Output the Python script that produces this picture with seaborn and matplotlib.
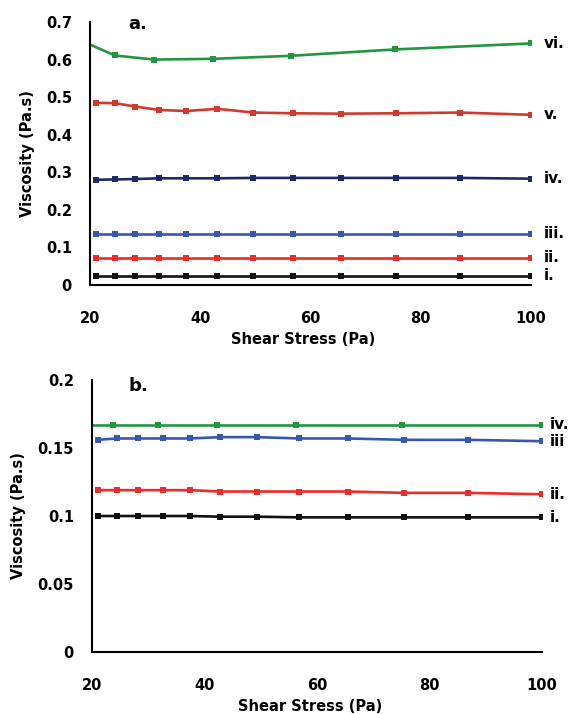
import matplotlib
matplotlib.use("Agg")
import matplotlib.pyplot as plt
import seaborn as sns
import pandas as pd

# ---------------- data: panel a ----------------
x_a = [21.0, 24.5, 28.2, 32.5, 37.5, 43.1, 49.6, 56.9, 65.6, 75.6, 87.1, 100.0]
a_i = [0.025, 0.025, 0.025, 0.025, 0.025, 0.025, 0.025, 0.025, 0.025, 0.025, 0.025, 0.025]
a_ii = [0.073, 0.073, 0.073, 0.073, 0.073, 0.073, 0.073, 0.073, 0.073, 0.073, 0.073, 0.073]
a_iii = [0.137, 0.137, 0.137, 0.137, 0.137, 0.137, 0.137, 0.137, 0.137, 0.137, 0.137, 0.137]
a_iv = [0.280, 0.281, 0.282, 0.284, 0.284, 0.284, 0.285, 0.285, 0.285, 0.285, 0.285, 0.283]
a_v = [0.485, 0.484, 0.475, 0.466, 0.463, 0.469, 0.459, 0.457, 0.456, 0.457, 0.459, 0.453]
x_a_vi = [20.0, 24.5, 31.6, 42.4, 56.4, 75.3, 100.0]
a_vi = [0.640, 0.611, 0.600, 0.602, 0.610, 0.627, 0.643]

# ---------------- data: panel b ----------------
x_b = [21.0, 24.4, 28.2, 32.6, 37.4, 42.8, 49.4, 56.8, 65.6, 75.5, 86.9, 100.0]
b_i = [0.100, 0.100, 0.100, 0.100, 0.100, 0.0995, 0.0995, 0.099, 0.099, 0.099, 0.099, 0.099]
b_ii = [0.119, 0.119, 0.119, 0.119, 0.119, 0.118, 0.118, 0.118, 0.118, 0.117, 0.117, 0.116]
b_iii = [0.156, 0.157, 0.157, 0.157, 0.157, 0.158, 0.158, 0.157, 0.157, 0.156, 0.156, 0.155]
x_b_iv = [20.0, 23.7, 31.7, 42.2, 56.3, 75.1, 100.0]
b_iv = [0.167, 0.167, 0.167, 0.167, 0.167, 0.167, 0.167]

labels_a = ["i.", "ii.", "iii.", "iv.", "v.", "vi."]
labels_b = ["i.", "ii.", "iii", "iv."]
xticks = [20, 40, 60, 80, 100]
yticks_a = [0, 0.1, 0.2, 0.3, 0.4, 0.5, 0.6, 0.7]
ytick_labels_a = ["0", "0.1", "0.2", "0.3", "0.4", "0.5", "0.6", "0.7"]
yticks_b = [0, 0.05, 0.1, 0.15, 0.2]
ytick_labels_b = ["0", "0.05", "0.1", "0.15", "0.2"]

sns.set_style("white")
plt.rcParams["font.family"] = ["DejaVu Sans"]
plt.rcParams["font.weight"] = "bold"
plt.rcParams["text.color"] = "black"
plt.rcParams["axes.labelcolor"] = "black"
plt.rcParams["xtick.color"] = "black"
plt.rcParams["ytick.color"] = "black"

col_black = "#111111"
col_red = "#EE2B2B"
col_blue = "#3658B2"
col_navy = "#1F2A64"
col_orange_red = "#CF3A2A"
col_green = "#22963F"

fig = plt.figure(figsize=(5.70, 7.14), dpi=100)
ax_a = fig.add_axes([90 / 570, 1 - 285 / 714, (531 - 90) / 570, (285 - 22) / 714])
ax_b = fig.add_axes([92 / 570, 1 - 652 / 714, (542 - 92) / 570, (652 - 380) / 714])

lw = 1.9
ms = 4.6


def draw(ax, xs, ys, color, label, off, skip_first=False):
    df = pd.DataFrame({"x": xs, "y": ys})
    kw = {}
    if skip_first:
        kw["markevery"] = list(range(1, len(xs)))
    sns.lineplot(data=df, x="x", y="y", ax=ax, color=color, linewidth=lw,
                 marker="s", markersize=ms, markeredgewidth=0, sort=False,
                 estimator=None, **kw)
    ax.annotate(label, xy=(xs[-1], ys[-1]), xytext=(off, 0), textcoords="offset points",
                va="center", ha="left", fontsize=11, fontweight="bold",
                color="black", annotation_clip=False)


off_a = 9.5
draw(ax_a, x_a, a_i, col_black, labels_a[0], off_a)
draw(ax_a, x_a, a_ii, col_red, labels_a[1], off_a)
draw(ax_a, x_a, a_iii, col_blue, labels_a[2], off_a)
draw(ax_a, x_a, a_iv, col_navy, labels_a[3], off_a)
draw(ax_a, x_a, a_v, col_orange_red, labels_a[4], off_a)
draw(ax_a, x_a_vi, a_vi, col_green, labels_a[5], off_a, skip_first=True)

off_b = 5.5
draw(ax_b, x_b, b_i, col_black, labels_b[0], off_b)
draw(ax_b, x_b, b_ii, col_red, labels_b[1], off_b)
draw(ax_b, x_b, b_iii, col_blue, labels_b[2], off_b)
draw(ax_b, x_b_iv, b_iv, col_green, labels_b[3], off_b, skip_first=True)

for ax, yt, ytl, ymax in [(ax_a, yticks_a, ytick_labels_a, 0.7),
                          (ax_b, yticks_b, ytick_labels_b, 0.2)]:
    ax.set_xlim(20, 100)
    ax.set_ylim(0, ymax)
    ax.set_xticks(xticks)
    ax.set_yticks(yt)
    ax.set_yticklabels(ytl)
    for s in ["top", "right"]:
        ax.spines[s].set_visible(False)
    for s in ["left", "bottom"]:
        ax.spines[s].set_color("black")
        ax.spines[s].set_linewidth(1.5)
    ax.tick_params(direction="out", length=4, width=1.5, colors="black",
                   labelcolor="black", labelsize=10.5)
    ax.tick_params(axis="x", pad=15)
    ax.tick_params(axis="y", pad=9)
    for t in ax.get_xticklabels() + ax.get_yticklabels():
        t.set_fontweight("bold")
    ax.set_xlabel("Shear Stress (Pa)", fontsize=10.5, fontweight="bold", labelpad=4,
                  color="black")
    ax.set_ylabel("Viscosity (Pa.s)", fontsize=10.5, fontweight="bold", labelpad=8,
                  color="black")
    ax.xaxis.label.set_x(0.484)
    ax.grid(False)

fig.text(128 / 570, 1 - 24 / 714, "a.", fontsize=13, fontweight="bold", va="center",
         ha="left", color="black")
fig.text(129 / 570, 1 - 386 / 714, "b.", fontsize=13, fontweight="bold", va="center",
         ha="left", color="black")

fig.savefig("out.png", dpi=100)
